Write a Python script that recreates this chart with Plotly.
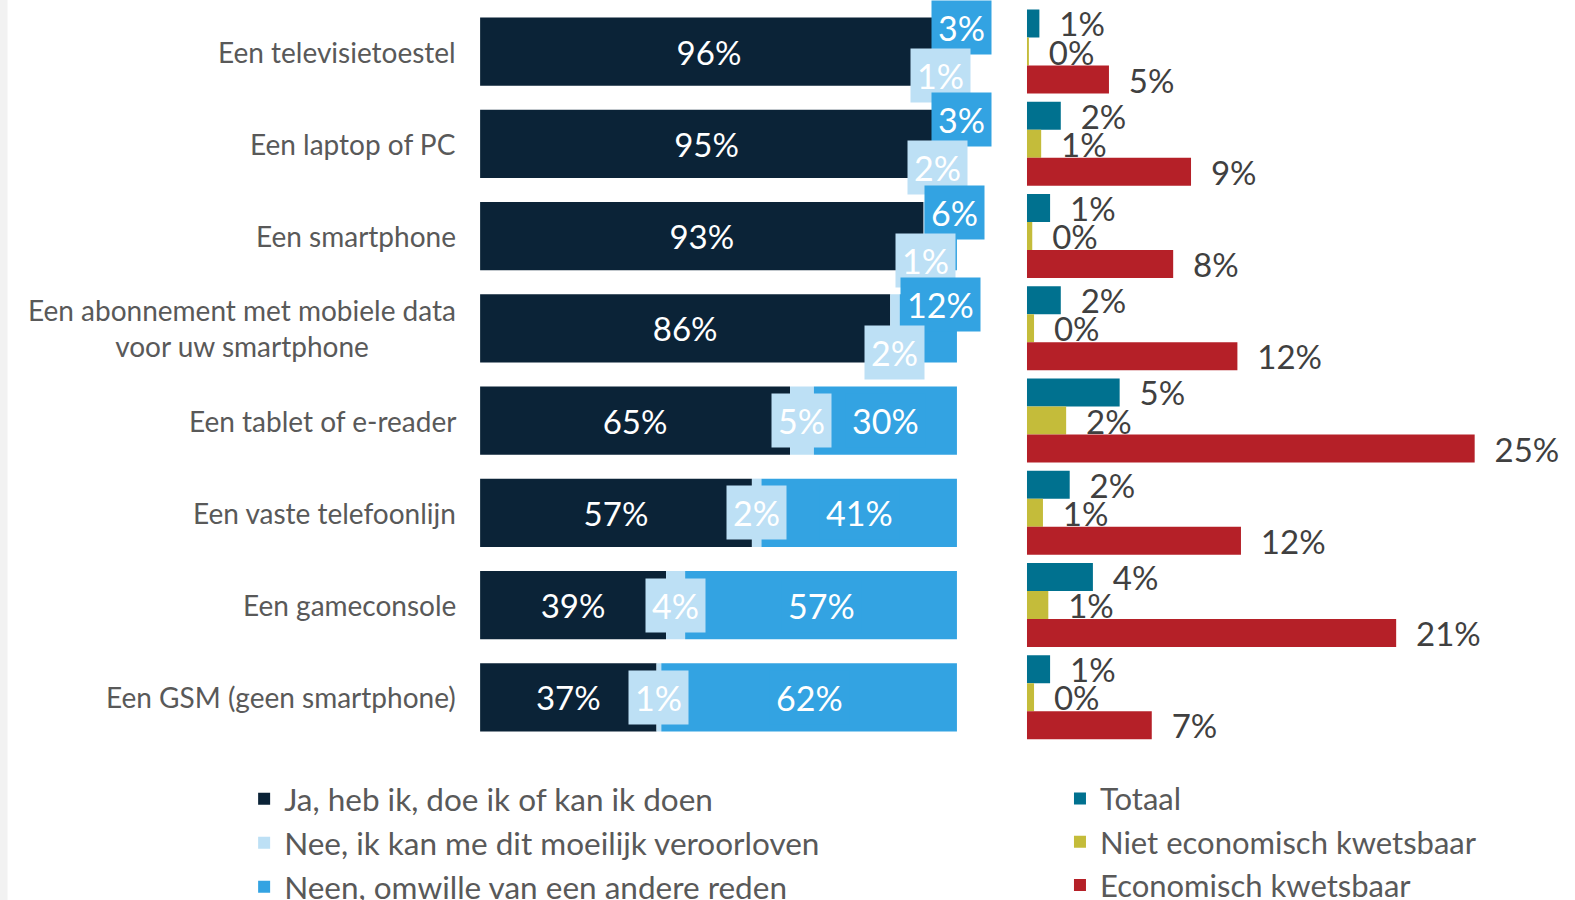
import plotly.graph_objects as go

# ---------------- data ----------------
categories = [
    "Een televisietoestel",
    "Een laptop of PC",
    "Een smartphone",
    "Een abonnement met mobiele data<br>voor uw smartphone",
    "Een tablet of e-reader",
    "Een vaste telefoonlijn",
    "Een gameconsole",
    "Een GSM (geen smartphone)",
]
ja_heb_ik = [96, 95, 93, 86, 65, 57, 39, 37]
nee_moeilijk = [1, 2, 1, 2, 5, 2, 4, 1]
neen_andere = [3, 3, 6, 12, 30, 41, 57, 62]

totaal = [0.7, 1.9, 1.3, 1.9, 5.2, 2.4, 3.7, 1.3]
niet_kwetsbaar = [0.1, 0.8, 0.3, 0.4, 2.2, 0.9, 1.2, 0.4]
kwetsbaar = [4.6, 9.2, 8.2, 11.8, 25.1, 12.0, 20.7, 7.0]

left_names = ["Ja, heb ik, doe ik of kan ik doen",
              "Nee, ik kan me dit moeilijk veroorloven",
              "Neen, omwille van een andere reden"]
right_names = ["Totaal", "Niet economisch kwetsbaar", "Economisch kwetsbaar"]

# ---------------- style ----------------
NAVY = "#0B2337"
LIGHT = "#BDE0F5"
BLUE = "#33A3E2"
TEAL = "#00718F"
OLIVE = "#C4BC3A"
RED = "#B52028"
GREY_TXT = "#595959"
DARK_TXT = "#404040"
FONT = "Lato"

fig = go.Figure()

base2 = [a + b for a, b in zip(ja_heb_ik, nee_moeilijk)]

fig.add_trace(go.Bar(
    y=categories, x=ja_heb_ik, base=[0] * len(ja_heb_ik), orientation="h",
    width=0.74, marker=dict(color=NAVY, line=dict(width=0)),
    name=left_names[0], legend="legend", legendgroup="a",
    texttemplate="%{x}%", textposition="inside", insidetextanchor="middle",
    textfont=dict(color="white", size=33, family=FONT), constraintext="none",
    hoverinfo="skip",
))
fig.add_trace(go.Bar(
    y=categories, x=nee_moeilijk, base=ja_heb_ik, orientation="h",
    width=0.74, marker=dict(color=LIGHT, line=dict(width=0)),
    name=left_names[1], legend="legend", legendgroup="b", hoverinfo="skip",
))
fig.add_trace(go.Bar(
    y=categories, x=neen_andere, base=base2, orientation="h",
    width=0.74, marker=dict(color=BLUE, line=dict(width=0)),
    name=left_names[2], legend="legend", legendgroup="c", hoverinfo="skip",
))

right_vals = [totaal, niet_kwetsbaar, kwetsbaar]
right_cols = [TEAL, OLIVE, RED]
bw = 0.304
for k, (vals, col, nm) in enumerate(zip(right_vals, right_cols, right_names)):
    fig.add_trace(go.Bar(
        y=categories, x=vals, orientation="h", xaxis="x2", yaxis="y",
        width=bw, offset=-1.5 * bw + k * bw,
        marker=dict(color=col, line=dict(width=0)),
        name=nm, legend="legend2", legendgroup="r%d" % k,
        texttemplate="\u00a0\u00a0%{x:.0f}%", textposition="outside",
        textfont=dict(color=DARK_TXT, size=33, family=FONT),
        constraintext="none", cliponaxis=False, hoverinfo="skip",
    ))

annotations = []
# category labels
for c in categories:
    annotations.append(dict(
        xref="paper", yref="y", x=0.2905, y=c, xanchor="right", yanchor="middle",
        text=c, showarrow=False, align="center",
        font=dict(size=28, color=GREY_TXT, family=FONT),
    ))
# segment labels (boxed)
for c, j, n, a in zip(categories, ja_heb_ik, nee_moeilijk, neen_andere):
    small = a < 15
    annotations.append(dict(
        xref="x", yref="y", x=j + n + a / 2, y=c, text="%d%%" % a,
        showarrow=False, bgcolor=BLUE, borderpad=6,
        yshift=24 if small else 0, xshift=12 if small else 0,
        font=dict(size=34, color="white", family=FONT),
    ))
    annotations.append(dict(
        xref="x", yref="y", x=j + n / 2, y=c, text="%d%%" % n,
        showarrow=False, bgcolor=LIGHT, borderpad=6,
        yshift=-24 if small else 0,
        font=dict(size=34, color="white", family=FONT),
    ))

fig.update_layout(
    width=1575, height=900,
    margin=dict(l=0, r=0, t=0, b=0, autoexpand=False),
    paper_bgcolor="white", plot_bgcolor="white",
    barmode="overlay",
    font=dict(family=FONT, color=GREY_TXT),
    xaxis=dict(domain=[0.3048, 0.6076], range=[0, 100], visible=False, fixedrange=True),
    xaxis2=dict(domain=[0.652, 0.985], range=[0, 29.4], anchor="y", visible=False),
    yaxis=dict(type="category", categoryorder="array", categoryarray=categories,
               range=[7.5, -0.5], domain=[0.174, 0.994], visible=False),
    annotations=annotations,
    legend=dict(x=0.155, y=0.1425, xanchor="left", yanchor="top",
                font=dict(size=31.5, color=GREY_TXT, family=FONT),
                traceorder="grouped", tracegroupgap=0, bgcolor="rgba(0,0,0,0)"),
    legend2=dict(x=0.673, y=0.1425, xanchor="left", yanchor="top",
                 font=dict(size=31, color=GREY_TXT, family=FONT),
                 traceorder="grouped", tracegroupgap=0, bgcolor="rgba(0,0,0,0)"),
    shapes=[dict(type="rect", xref="paper", yref="paper", x0=0, x1=0.0048,
                 y0=0, y1=1, fillcolor="#F2F2F2", line=dict(width=0), layer="below")],
    showlegend=True,
)

fig.write_html("out.html", config={"displayModeBar": False},
               post_script="document.body.style.margin='0px';")
